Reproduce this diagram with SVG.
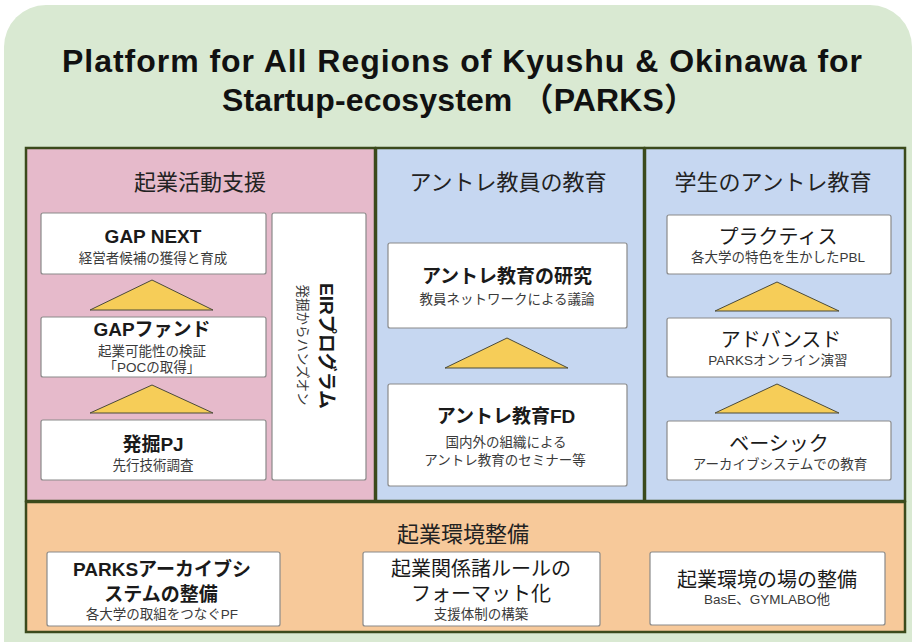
<svg xmlns="http://www.w3.org/2000/svg" width="915" height="642" viewBox="0 0 915 642">
<defs>
<style>
text{font-family:"Liberation Sans","Noto Sans CJK JP",sans-serif;fill:#1a1a1a;text-anchor:middle}
.title{font-size:32px;font-weight:bold;fill:#111}
.ph{font-size:22px;font-weight:400;fill:#222}
.bt{font-size:19px;font-weight:bold}
.bn{font-size:20px;font-weight:400}
.st{font-size:13.5px;fill:#3a3a3a}
.panel{stroke:#3b4a1c;stroke-width:2.5}
.box{fill:#fff;stroke:#8a8a8a;stroke-width:1.2}
.tri{fill:#f6cd58;stroke:#4a4a3a;stroke-width:1}
</style>
</defs>
<rect x="4" y="5" width="908" height="680" rx="42" fill="#d9e9d2"/>
<g id="title">
<text class="title" x="462" y="72" textLength="800" lengthAdjust="spacing">Platform for All Regions of Kyushu &amp; Okinawa for</text>
<text class="title" x="459" y="111" textLength="474" lengthAdjust="spacing">Startup-ecosystem （PARKS）</text>
</g>
<g id="panel-kigyo">
<rect class="panel" x="26" y="148" width="349" height="353" fill="#e6bacb"/>
<text class="ph" x="200" y="190" font-size="23">起業活動支援</text>
</g>
<g id="panel-kyoin">
<rect class="panel" x="376" y="148" width="268" height="353" fill="#c6d7f1"/>
<text class="ph" x="508" y="190">アントレ教員の教育</text>
</g>
<g id="panel-gakusei">
<rect class="panel" x="645" y="148" width="260" height="353" fill="#c6d7f1"/>
<text class="ph" x="773" y="190">学生のアントレ教育</text>
</g>
<g id="panel-kankyo">
<rect class="panel" x="26" y="502" width="879" height="130" fill="#f7c99a"/>
<text class="ph" x="463" y="542" font-weight="bold" font-size="21">起業環境整備</text>
</g>
<g id="connectors">
<polygon class="tri" points="152,280 90,310 213,310"/>
<polygon class="tri" points="152,385 90,413 213,413"/>
<polygon class="tri" points="507,338 445,368 568,368"/>
<polygon class="tri" points="777,282 715,311 839,311"/>
<polygon class="tri" points="777,384 715,413 839,413"/>
</g>
<g id="gap-next">
<rect class="box" x="41" y="213" width="225" height="61" rx="2"/>
<text class="bt" x="153" y="243" font-size="20">GAP NEXT</text>
<text class="st" x="153" y="263">経営者候補の獲得と育成</text>
</g>
<g id="gap-fund">
<rect class="box" x="41" y="317" width="225" height="60" rx="2"/>
<text class="bt" x="152" y="336" font-size="20">GAPファンド</text>
<text class="st" x="152" y="356" font-size="14">起業可能性の検証</text>
<text class="st" x="152" y="372" font-size="14">「POCの取得」</text>
</g>
<g id="hakkutsu">
<rect class="box" x="41" y="420" width="225" height="60" rx="2"/>
<text class="bt" x="153" y="451" font-size="21">発掘PJ</text>
<text class="st" x="153" y="470" font-size="14.5">先行技術調査</text>
</g>
<g id="eir">
<rect class="box" x="272" y="213" width="94" height="267" rx="2"/>
<text class="bt" transform="translate(320,346) rotate(90)" font-size="18">EIRプログラム</text>
<text class="st" transform="translate(298,345) rotate(90)" font-size="13">発掘からハンズオン</text>
</g>
<g id="kenkyu">
<rect class="box" x="388" y="243" width="239" height="85" rx="2"/>
<text class="bt" x="507" y="283" font-size="18">アントレ教育の研究</text>
<text class="st" x="507" y="304" font-size="13">教員ネットワークによる議論</text>
</g>
<g id="fd">
<rect class="box" x="388" y="384" width="239" height="102" rx="2"/>
<text class="bt" x="506" y="423" font-size="18">アントレ教育FD</text>
<text class="st" x="506" y="447" font-size="14">国内外の組織による</text>
<text class="st" x="505" y="465" font-size="13">アントレ教育のセミナー等</text>
</g>
<g id="practice">
<rect class="box" x="667" y="215" width="224" height="59" rx="2"/>
<text class="bn" x="778" y="244" font-size="19">プラクティス</text>
<text class="st" x="778" y="262" font-size="14">各大学の特色を生かしたPBL</text>
</g>
<g id="advanced">
<rect class="box" x="667" y="318" width="224" height="59" rx="2"/>
<text class="bn" x="781" y="347">アドバンスド</text>
<text class="st" x="778" y="365">PARKSオンライン演習</text>
</g>
<g id="basic">
<rect class="box" x="667" y="421" width="224" height="59" rx="2"/>
<text class="bn" x="779" y="451">ベーシック</text>
<text class="st" x="780" y="469" font-size="14">アーカイブシステムでの教育</text>
</g>
<g id="archive">
<rect class="box" x="47" y="552" width="233" height="74" rx="2"/>
<text class="bt" x="162" y="576" font-size="20">PARKSアーカイブシ</text>
<text class="bt" x="161" y="601" font-size="21">ステムの整備</text>
<text class="st" x="162" y="619" font-size="13.5">各大学の取組をつなぐPF</text>
</g>
<g id="rules">
<rect class="box" x="363" y="552" width="237" height="74" rx="2"/>
<text class="bn" x="481" y="576" font-size="21" font-weight="bold">起業関係諸ルールの</text>
<text class="bn" x="481" y="601" font-size="21" font-weight="bold">フォーマット化</text>
<text class="st" x="481" y="619" font-size="13">支援体制の構築</text>
</g>
<g id="place">
<rect class="box" x="650" y="552" width="235" height="73" rx="2"/>
<text class="bn" x="767" y="587" font-size="21" font-weight="bold">起業環境の場の整備</text>
<text class="st" x="767" y="604" font-size="12">BasE、GYMLABO他</text>
</g>
</svg>
